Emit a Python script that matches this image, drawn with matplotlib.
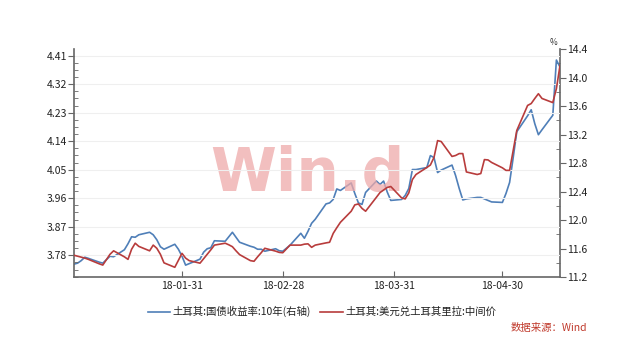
import matplotlib
matplotlib.use("Agg")
import matplotlib.pyplot as plt
import matplotlib.dates as mdates
from matplotlib.ticker import FixedLocator, AutoMinorLocator, NullLocator
import numpy as np
import pandas as pd

plt.rcParams['font.family'] = ['Noto Sans CJK SC', 'DejaVu Sans']

# business days from 2018-01-01 to 2018-05-16
dates = pd.bdate_range('2018-01-01', '2018-05-16')

# USD/TRY central rate (left axis)
usdtry = [
    3.780, 3.777, 3.774, 3.771, 3.767,
    3.753, 3.749, 3.766, 3.783, 3.794,
    3.775, 3.767, 3.799, 3.818, 3.808,
    3.794, 3.812, 3.802, 3.783, 3.756,
    3.742, 3.764, 3.786, 3.771, 3.763,
    3.755, 3.769, 3.783, 3.797, 3.812,
    3.818, 3.813, 3.807, 3.794, 3.782,
    3.763, 3.761, 3.775, 3.788, 3.802,
    3.793, 3.789, 3.788, 3.800, 3.812,
    3.812, 3.815, 3.816, 3.805, 3.812,
    3.819, 3.821, 3.849, 3.867, 3.884,
    3.919, 3.939, 3.942, 3.928, 3.919,
    3.963, 3.978, 3.986, 3.994, 3.997,
    3.961, 3.958, 3.977, 4.019, 4.035,
    4.057, 4.065, 4.089, 4.142, 4.139,
    4.092, 4.095, 4.101, 4.101, 4.043,
    4.035, 4.038, 4.082, 4.081, 4.073,
    4.056, 4.048, 4.048, 4.111, 4.174,
    4.253, 4.259, 4.275, 4.290, 4.275,
    4.262, 4.306, 4.379,
]

# Turkey 10y government bond yield, % (right axis)
yield10 = [
    11.382, 11.396, 11.431, 11.479, 11.463,
    11.410, 11.396, 11.445, 11.493, 11.486,
    11.584, 11.668, 11.766, 11.759, 11.794,
    11.829, 11.794, 11.724, 11.626, 11.591,
    11.661, 11.591, 11.493, 11.368, 11.389,
    11.452, 11.549, 11.598, 11.612, 11.710,
    11.703, 11.766, 11.829, 11.759, 11.689,
    11.633, 11.619, 11.591, 11.591, 11.563,
    11.598, 11.570, 11.563, 11.605, 11.647,
    11.815, 11.745, 11.843, 11.955, 12.011,
    12.227, 12.241, 12.290, 12.437, 12.416,
    12.521, 12.374, 12.241, 12.220, 12.388,
    12.548, 12.500, 12.548, 12.395, 12.276,
    12.290, 12.346, 12.444, 12.709, 12.709,
    12.737, 12.905, 12.877, 12.667, 12.702,
    12.772, 12.625, 12.444, 12.283, 12.297,
    12.318, 12.318, 12.297, 12.276, 12.255,
    12.248, 12.374, 12.528, 12.877, 13.240,
    13.464, 13.548, 13.352, 13.198, 13.268,
    13.471, 14.246, 14.148,
]

left_ticks = [3.78, 3.87, 3.96, 4.05, 4.14, 4.23, 4.32, 4.41]
right_ticks = [11.2, 11.6, 12.0, 12.4, 12.8, 13.2, 13.6, 14.0, 14.4]
xtick_major = ['2018-01-31', '2018-02-28', '2018-03-31', '2018-04-30']
xtick_minor = ['2018-01-10', '2018-01-20', '2018-02-09', '2018-02-18',
               '2018-03-10', '2018-03-20', '2018-04-10', '2018-04-20',
               '2018-05-10']

blue = '#4f7fb8'
red = '#b83c3c'
axis_col = '#666666'

fig = plt.figure(figsize=(6.25, 3.53), dpi=100)
ax = fig.add_axes([0.1184, 0.215, 0.7776, 0.646])
ax2 = ax.twinx()

ax.plot(dates, usdtry, color=red, lw=1.2, zorder=3)
ax2.plot(dates, yield10, color=blue, lw=1.2, zorder=2)
ax.set_zorder(ax2.get_zorder() + 1)
ax.patch.set_visible(False)

ax.set_xlim(pd.Timestamp('2018-01-01'), pd.Timestamp('2018-05-16'))
ax.set_ylim(3.711, 4.431)
ax2.set_ylim(11.2, 14.4)

for s in ['top', 'right']:
    ax.spines[s].set_visible(False)
for s in ['top', 'left', 'bottom']:
    ax2.spines[s].set_visible(False)
ax.spines['left'].set_color(axis_col)
ax.spines['bottom'].set_color(axis_col)
ax2.spines['right'].set_color(axis_col)
ax.spines['left'].set_linewidth(1.2)
ax.spines['bottom'].set_linewidth(1.2)
ax2.spines['right'].set_linewidth(1.2)

# left axis
ax.yaxis.set_major_locator(FixedLocator(left_ticks))
ax.yaxis.set_minor_locator(AutoMinorLocator(4))
ax.set_yticklabels([f"{t:.2f}" for t in left_ticks])
ax.tick_params(axis='y', which='major', direction='out', length=4, color=axis_col,
               labelsize=7.5, labelcolor='#222222', pad=1)
ax.tick_params(axis='y', which='minor', direction='in', length=3, color=axis_col)
ax.grid(axis='y', which='major', color='#efefef', lw=0.8)

# right axis
ax2.yaxis.set_major_locator(FixedLocator(right_ticks))
ax2.yaxis.set_minor_locator(AutoMinorLocator(2))
ax2.set_yticklabels([f"{t:.1f}" for t in right_ticks])
ax2.tick_params(axis='y', which='major', direction='out', length=4, color=axis_col,
                labelsize=7.5, labelcolor='#222222', pad=1)
ax2.tick_params(axis='y', which='minor', direction='in', length=3, color=axis_col)

# x axis
ax.xaxis.set_major_locator(FixedLocator([mdates.date2num(pd.Timestamp(d)) for d in xtick_major]))
ax.xaxis.set_minor_locator(FixedLocator([mdates.date2num(pd.Timestamp(d)) for d in xtick_minor]))
ax.set_xticklabels([pd.Timestamp(d).strftime('%y-%m-%d') for d in xtick_major])
ax.tick_params(axis='x', which='major', direction='in', length=4, color=axis_col,
               labelsize=7.5, labelcolor='#222222', pad=3)
ax.tick_params(axis='x', which='minor', direction='in', length=3, color=axis_col)
ax2.xaxis.set_minor_locator(NullLocator())

fig.text(0.885, 0.866, '%', fontsize=6, color='#333333', ha='center', va='bottom')

# watermark
fig.text(0.492, 0.507, 'Win.d', fontsize=43, fontweight='bold', color='#eeaaaa',
         alpha=0.75, ha='center', va='center', family='DejaVu Sans', zorder=0)

# legend
fig.lines.append(plt.Line2D([0.237, 0.272], [0.117, 0.117], transform=fig.transFigure,
                            color=blue, lw=1.2))
fig.text(0.276, 0.117, '土耳其:国债收益率:10年(右轴)', fontsize=7.5, color='#222222',
         va='center', ha='left')
fig.lines.append(plt.Line2D([0.512, 0.549], [0.117, 0.117], transform=fig.transFigure,
                            color=red, lw=1.2))
fig.text(0.553, 0.117, '土耳其:美元兑土耳其里拉:中间价', fontsize=7.5, color='#222222',
         va='center', ha='left')

fig.text(0.94, 0.072, '数据来源：Wind', fontsize=7.5, color='#c0392b', style='italic',
         ha='right', va='center')

fig.savefig('out.png', dpi=100)
